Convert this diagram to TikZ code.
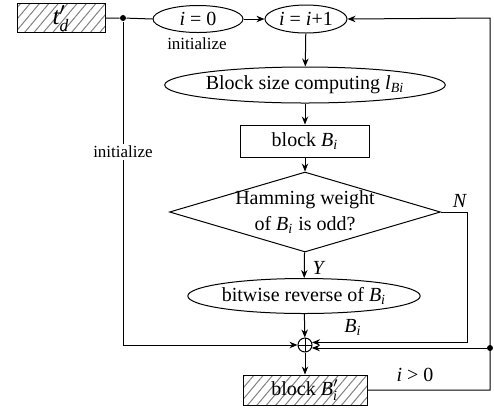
\documentclass[tikz,border=0pt]{standalone}
\usepackage{amsmath}
\usepackage{fontspec}
\setmainfont{Liberation Serif}
\usetikzlibrary{shapes.geometric,arrows.meta,patterns.meta,calc}
\newcommand{\vi}[1]{\textit{#1}}
\begin{document}
\begin{tikzpicture}[x=0.5pt,y=-0.5pt, line width=0.5pt, font=\fontsize{10}{12}\selectfont,
  arr/.style={-{Stealth[length=4pt,width=3.2pt]}},
  ell/.style={ellipse,draw,inner sep=0pt},
  box/.style={rectangle,draw,inner sep=0pt},
  hatch/.style={box,pattern={Lines[angle=50,distance=3.6pt,line width=0.5pt]},pattern color=gray},
  lbl/.style={font=\fontsize{8.5}{10}\selectfont},
  dotn/.style={circle,fill,inner sep=0pt,minimum size=3pt}]
\useasboundingbox (0,0) rectangle (494,409);
% nodes
\node[hatch,minimum width=44pt,minimum height=14.5pt] (td) at (61,18) {};
\node[font=\fontsize{12.5}{14}\selectfont,inner sep=0pt] (tdt) at (61,19) {$\textit{t}'_{\textit{d}}$};
\node[dotn] (J) at (123,18) {};
\node[ell,minimum width=45pt,minimum height=13.5pt] (i0) at (198,19) {\vi{i} = 0};
\node[lbl] (init1) at (197,44) {initialize};
\node[ell,minimum width=41pt,minimum height=14pt] (i1) at (306,19) {\vi{i} = \vi{i}+1};
\node[ell,minimum width=117pt,minimum height=18pt] (bs) at (305,85) {Block size computing \vi{l}\textsubscript{\vi{Bi}}};
\node[box,minimum width=64.5pt,minimum height=16pt] (blk) at (305,141) {block \vi{B}\textsubscript{\vi{i}}};
\node[diamond,draw,inner sep=0pt,minimum width=135.5pt,minimum height=40pt] (d) at (305,212) {};
\node[align=center] (dt) at (305,212) {Hamming weight\\[1.2pt]of \vi{B}\textsubscript{\vi{i}} is odd?};
\node[ell,minimum width=114pt,minimum height=17.5pt] (br) at (304,296) {bitwise reverse of \vi{B}\textsubscript{\vi{i}}};
\node[circle,draw,inner sep=0pt,minimum size=7pt,
  path picture={\draw (path picture bounding box.north) -- (path picture bounding box.south)
   (path picture bounding box.west) -- (path picture bounding box.east);}] (xor) at (305,345) {};
\node[hatch,minimum width=62pt,minimum height=15pt] (bp) at (305,390) {block $\textit{B}'_{\textit{i}}$};
\coordinate (nR) at (467,212);
\coordinate (rtop) at (490,18);
\node[dotn] (Rd) at (490,348) {};
\coordinate (lb) at (123,345);
% labels
\node (N) at (460,201) {\vi{N}};
\node (Y) at (319,268) {\vi{Y}};
\node (Bl) at (353,327) {\vi{B}\textsubscript{\vi{i}}};
\node (ig) at (415,375) {\vi{i} > 0};
% connectors
\draw (td.east) -- (J) -- (i0.west);
\draw[arr] (i0) -- (i1);
\draw[arr] (i1) -- (bs);
\draw[arr] (bs) -- (blk);
\draw[arr] (blk) -- (d);
\draw[arr] (d) -- (br);
\draw[arr] (br) -- (xor);
\draw[arr] (xor) -- (bp);
\draw[arr] (d.east) -- (nR) |- (xor.20);
\draw[arr] (bp.east) -| (rtop) -- (i1.east);
\draw[arr] (Rd) -- (Rd -| xor.-25);
\draw[arr] (J) -- (lb) -- (xor.west);
\node[lbl,fill=white,inner sep=1pt] (init2) at (123,152) {initialize};
\end{tikzpicture}
\end{document}
